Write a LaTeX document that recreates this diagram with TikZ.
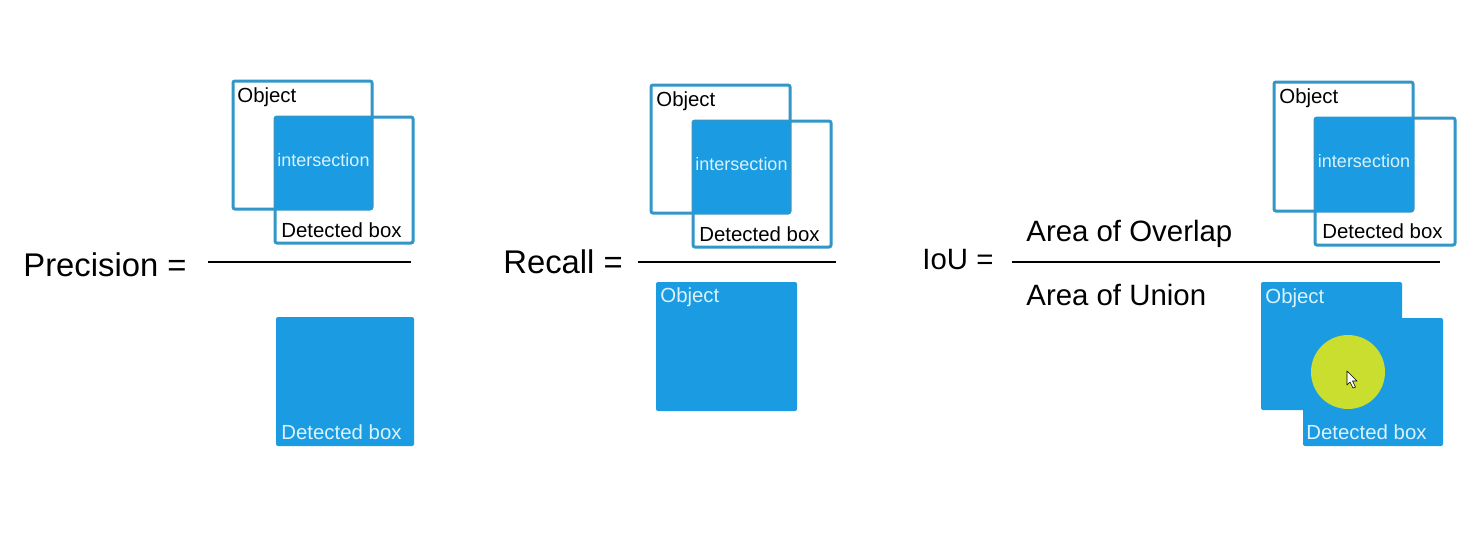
\documentclass[tikz,border=0pt]{standalone}
\usepackage{fontspec}
\setmainfont{Liberation Sans}
\definecolor{boxfill}{RGB}{27,155,226}
\definecolor{boxline}{RGB}{50,150,200}
\definecolor{lighttext}{RGB}{218,242,252}
\definecolor{spot}{RGB}{201,222,46}
\tikzset{
  x=0.5pt, y=-0.5pt,
  outl/.style={draw=boxline, line width=1.5pt, rounded corners=1pt, inner sep=0pt},
  filled/.style={fill=boxfill, rounded corners=1pt, inner sep=0pt},
  dark/.style={anchor=west, inner sep=0pt, font=\fontsize{10.2}{12}\selectfont, text=black},
  light/.style={anchor=west, inner sep=0pt, font=\fontsize{10.2}{12}\selectfont, text=lighttext},
  inter/.style={font=\fontsize{9}{11}\selectfont, text=lighttext},
  big/.style={anchor=west, inner sep=0pt, font=\fontsize{16.4}{19}\selectfont},
  mid/.style={anchor=west, inner sep=0pt, font=\fontsize{14.7}{17}\selectfont},
  frac/.style={line width=1pt, black}
}
\begin{document}
\begin{tikzpicture}
\useasboundingbox[fill=white] (0,0) rectangle (1474,532);
% ---------- Precision ----------
\node[outl, minimum width=69.5pt, minimum height=64pt] (o1) at (302.5,145) {};
\node[outl, minimum width=69pt, minimum height=63pt] (d1) at (344,180) {};
\node[filled, minimum width=48.5pt, minimum height=46pt] (i1) at (323.5,163) {};
\node[inter] (i1t) at (323.5,160) {intersection};
\node[dark] (o1t) at (237,97) {Object};
\node[dark] (d1t) at (281,230) {Detected box};
\node[big] (prec) at (23,265) {Precision =};
\coordinate (l1a) at (208,262);
\coordinate (l1b) at (411,262);
\draw[frac] (l1a) -- (l1b);
\node[filled, minimum width=69pt, minimum height=64.5pt] (den1) at (345,381.5) {};
\node[light] (den1t) at (281,432) {Detected box};
% ---------- Recall ----------
\node[outl, minimum width=69.5pt, minimum height=64pt] (o2) at (720.5,149) {};
\node[outl, minimum width=69pt, minimum height=63pt] (d2) at (762,184) {};
\node[filled, minimum width=48.5pt, minimum height=46pt] (i2) at (741.5,167) {};
\node[inter] (i2t) at (741.5,164) {intersection};
\node[dark] (o2t) at (656,101) {Object};
\node[dark] (d2t) at (699,234) {Detected box};
\node[big] (rec) at (503,262) {Recall =};
\coordinate (l2a) at (638,262);
\coordinate (l2b) at (836,262);
\draw[frac] (l2a) -- (l2b);
\node[filled, minimum width=70.5pt, minimum height=64.5pt] (den2) at (726.5,346.5) {};
\node[light] (den2t) at (660,297) {Object};
% ---------- IoU ----------
\node[outl, minimum width=69.5pt, minimum height=64.5pt] (o3) at (1343.5,146.5) {};
\node[outl, minimum width=70pt, minimum height=63.5pt] (d3) at (1385,181.5) {};
\node[filled, minimum width=49pt, minimum height=46.5pt] (i3) at (1364,164.5) {};
\node[inter] (i3t) at (1364,161.5) {intersection};
\node[dark] (o3t) at (1279,98) {Object};
\node[dark] (d3t) at (1322,231) {Detected box};
\node[mid] (iou) at (922,260) {IoU =};
\node[mid] (ovl) at (1026,234) {Area of Overlap};
\node[mid] (uni) at (1026,295) {Area of Union};
\coordinate (l3a) at (1012,262);
\coordinate (l3b) at (1440,262);
\draw[frac] (l3a) -- (l3b);
\node[filled, minimum width=70pt, minimum height=64pt] (da) at (1373,382) {};
\node[filled, minimum width=70.5pt, minimum height=64pt] (oa) at (1331.5,346) {};
\node[light] (oat) at (1265,298) {Object};
\node[light] (dat) at (1306,432) {Detected box};
\node[circle, fill=spot, minimum size=37pt, inner sep=0pt] (spotc) at (1348,372) {};
% cursor
\draw[fill=white, draw=black, line width=0.3pt, line join=round]
  (1347,371) -- (1347,385) -- (1350,382) -- (1353,388) -- (1355.5,387) -- (1352.5,381) -- (1357,381) -- cycle;
\end{tikzpicture}
\end{document}
